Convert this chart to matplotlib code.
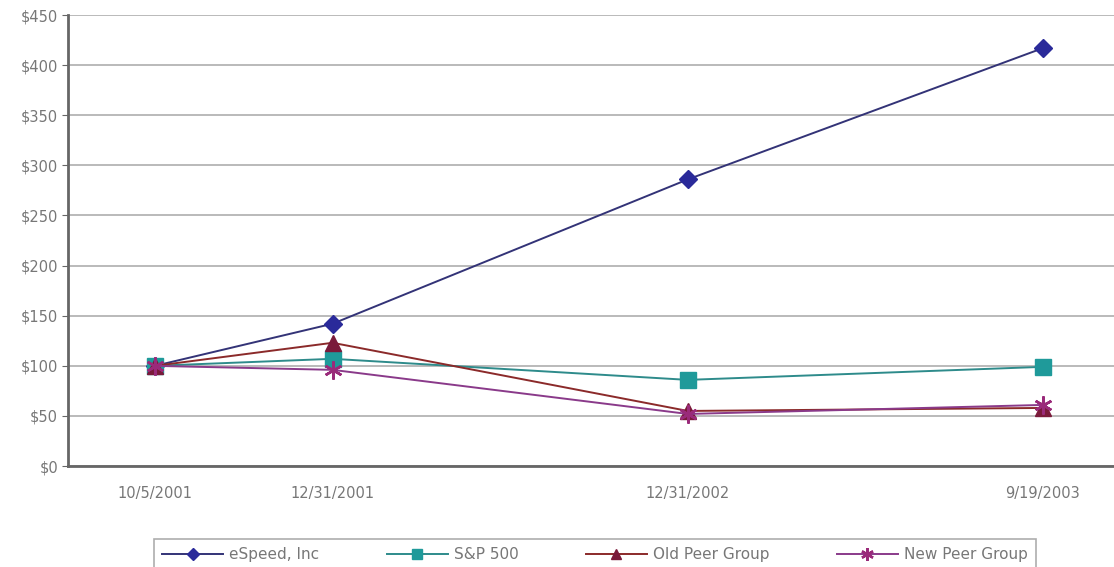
import matplotlib
matplotlib.use("Agg")
import matplotlib.pyplot as plt

# values (indexed to $100)
dates = ["10/5/2001", "12/31/2001", "12/31/2002", "9/19/2003"]
espeed = [100, 142, 286, 417]
sp500 = [100, 107, 86, 99]
old_peer = [100, 123, 55, 58]
new_peer = [100, 96, 52, 61]
y_ticks = [0, 50, 100, 150, 200, 250, 300, 350, 400, 450]

# uneven category spacing as in the original
x_pos = [0, 0.5, 1.5, 2.5]

plt.rcParams["font.family"] = "DejaVu Sans"

fig = plt.figure(figsize=(11.14, 5.67), dpi=100)
ax = fig.add_axes([0.061, 0.178, 0.939, 0.7955])

ax.plot(x_pos, espeed, color="#333377", lw=1.4, marker="D", ms=9,
        mfc="#2a2a9a", mec="#2a2a9a", label="eSpeed, Inc", zorder=3)
ax.plot(x_pos, sp500, color="#2e8b8b", lw=1.4, marker="s", ms=11,
        mfc="#1f9a9a", mec="#1f9a9a", label="S&P 500", zorder=3)
ax.plot(x_pos, old_peer, color="#8b2a2a", lw=1.4, marker="^", ms=11,
        mfc="#7a1a3a", mec="#7a1a3a", label="Old Peer Group", zorder=4)
ax.plot(x_pos, new_peer, color="#8a3a8a", lw=1.4, marker=(6, 2, 0), ms=13,
        mfc="#9a2a7a", mec="#9a2a7a", mew=1.8, label="New Peer Group", zorder=5)

ax.set_xlim(-0.245, 2.70)
ax.set_ylim(0, 450)
ax.set_yticks(y_ticks)
ax.set_yticklabels([f"${v}" for v in y_ticks])
ax.set_xticks(x_pos)
ax.set_xticklabels(dates)
ax.grid(axis="y", color="#b4b4b4", lw=1.3)
ax.set_axisbelow(True)

for side in ["top", "right"]:
    ax.spines[side].set_visible(False)
for side in ["left", "bottom"]:
    ax.spines[side].set_color("#666666")
    ax.spines[side].set_linewidth(2)

ax.tick_params(axis="y", length=4, color="#666666", labelsize=10.5,
               labelcolor="#777777", pad=3)
ax.tick_params(axis="x", length=0, labelsize=10.5, labelcolor="#777777", pad=14)

leg = fig.legend(loc="upper center", bbox_to_anchor=(0.534, 0.063), ncol=4,
                 frameon=True, fancybox=False, fontsize=11, columnspacing=4.4,
                 handlelength=4.0, handletextpad=0.4, borderpad=0.55,
                 markerscale=0.7)
leg.get_frame().set_edgecolor("#999999")
leg.get_frame().set_linewidth(1.2)
for t in leg.get_texts():
    t.set_color("#777777")

fig.savefig("out.png", dpi=100)
